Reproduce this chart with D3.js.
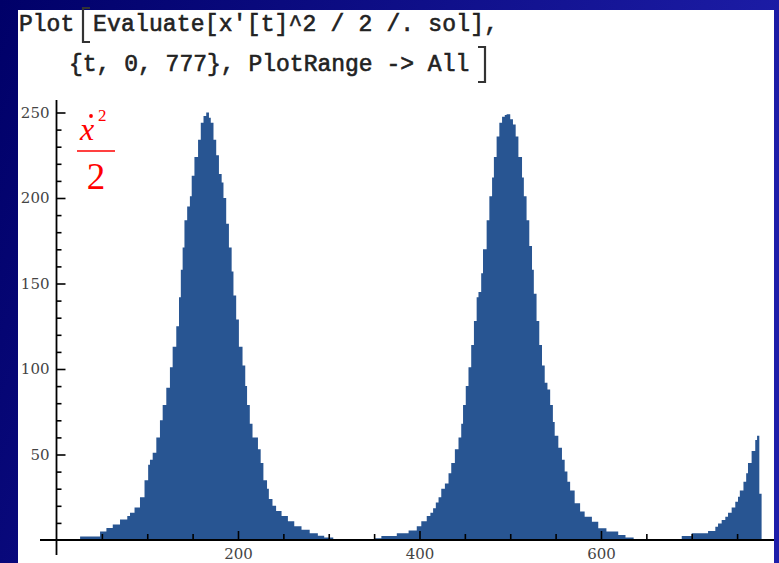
<!DOCTYPE html>
<html><head><meta charset="utf-8">
<script src="https://cdn.jsdelivr.net/npm/d3@7"></script>
<style>html,body{margin:0;padding:0;overflow:hidden;background:#000070}</style>
</head><body>
<script>
// ---- data: envelope of x'(t)^2/2 ----
const tValues = [0,26,48,55,62,70,78,81,86,92,97,101,103,106,110,114,117,121,125,128,132,135,137,139,141,144,147,149,152,156,159,162,165,168,170,173,176,179,182,184,187,190,193,195,198,201,205,208,210,213,216,222,225,228,232,234,238,242,248,255,262,270,279,288,295,305,
351,358,375,388,397,402,408,412,415,418,421,424,428,432,435,439,443,446,448,451,454,457,460,463,465,468,470,474,477,480,482,485,488,491,494,496,500,503,506,509,513,515,518,521,524,526,529,532,535,538,541,544,547,549,553,557,560,563,566,571,577,582,590,597,606,619,627,636,
689,700,718,726,729,733,737,740,744,748,751,753,757,760,762,766,770,772,774.5,777];
const energy = [0,2,5,7,9,12,14,16,19,25,35,44,47,51,60,70,79,89,101,113,125,142,158,171,187,195,201,213,224,234,244,248,250,247,244,234,225,214,209,200,185,171,157,143,129,113,102,90,79,68,60,53,45,35,30,24,20,17,14,11,8,6,4,2.5,1.5,0,
1,2.3,4,5.5,8,11,14,16,18.5,22,25,30,33,39,45,53,60,68,79,90,101,114,128,142,145,156,170,187,201,212,224,236,244,247.5,248.5,249,246,243,236,224,212,201,187,172,158,144,128,114,102,92,88,79,69,61,54,47,40,34,29,21.5,16.6,13.6,10.7,6.8,4.9,2.9,1.5,0,
2.3,4,5.3,7.8,9.7,11.7,13.6,16,19,22.4,25.3,29,34,39,45,52,58.5,61,27,27];
const xMajor = [200,400,600];
const xMinor = [50,100,150,250,300,350,450,500,550,650,700,750];
const yMajor = [50,100,150,200,250];
const yMinor = [10,20,30,40,60,70,80,90,110,120,130,140,160,170,180,190,210,220,230,240];
const codeLine1a = "Plot";
const codeLine1b = "Evaluate[x'[t]^2 / 2 /. sol],";
const codeLine2 = "{t, 0, 777}, PlotRange -> All";

const W = 779, H = 563;
const svg = d3.select("body").append("svg").attr("width", W).attr("height", H);
const defs = svg.append("defs");
const grad = defs.append("linearGradient").attr("id","bg").attr("x1","0").attr("y1","0").attr("x2","1").attr("y2","0.3");
grad.append("stop").attr("offset","0").attr("stop-color","#000068");
grad.append("stop").attr("offset","1").attr("stop-color","#1e1eaa");
svg.append("rect").attr("width",W).attr("height",H).attr("fill","url(#bg)");
svg.append("rect").attr("x",18).attr("y",10).attr("width",756).attr("height",H-10).attr("fill","#fff");

// code text
const code = svg.append("g").attr("font-family","'Liberation Mono','Courier New',monospace")
  .attr("font-size",23).attr("fill","#222").attr("stroke","#222").attr("stroke-width",0.6);
code.append("text").attr("x",19).attr("y",31).text(codeLine1a);
code.append("text").attr("x",93).attr("y",31).attr("xml:space","preserve")
  .attr("textLength",405).attr("lengthAdjust","spacing").text(codeLine1b);
code.append("text").attr("x",69).attr("y",71).attr("xml:space","preserve").text(codeLine2);
// stretched brackets
code.append("path").attr("d","M90,8 H83 V42 H90").attr("fill","none").attr("stroke","#333").attr("stroke-width",2.2);
code.append("path").attr("d","M478,47 H485 V82 H478").attr("fill","none").attr("stroke","#333").attr("stroke-width",2.2);

const x = d3.scaleLinear().domain([0,777]).range([56.5,761.6]);
const y = d3.scaleLinear().domain([0,250]).range([540,112.5]);

const data = tValues.map((t,i)=>({t, v: energy[i]}));
const area = d3.area().x(d=>x(d.t)).y0(y(0)).y1(d=>y(d.v)).curve(d3.curveStepAfter);
svg.append("path").datum(data).attr("d",area).attr("fill","#285592");

// axes
const axStyle = g => { g.select(".domain").remove(); g.selectAll("line").attr("stroke","#000").attr("stroke-width",1.6);
  g.selectAll("text").attr("font-family","'DejaVu Serif',serif").attr("font-size",15).attr("fill","#444"); };
svg.append("g").attr("transform",`translate(${x(0)},0)`)
  .call(d3.axisLeft(y).tickValues(yMinor).tickSize(-5).tickFormat(""))
  .call(axStyle);
svg.append("g").attr("transform",`translate(${x(0)},0)`)
  .call(d3.axisLeft(y).tickValues(yMajor).tickSize(-9).tickPadding(7).tickFormat(d3.format("d")))
  .call(axStyle);
svg.append("g").attr("transform",`translate(0,${y(0)})`)
  .call(d3.axisBottom(x).tickValues(xMinor).tickSize(-6).tickFormat(""))
  .call(axStyle);
svg.append("g").attr("transform",`translate(0,${y(0)})`)
  .call(d3.axisBottom(x).tickValues(xMajor).tickSize(-9).tickPadding(8).tickFormat(d3.format("d")))
  .call(axStyle);
// axis lines
svg.append("line").attr("x1",40).attr("x2",774).attr("y1",y(0)).attr("y2",y(0)).attr("stroke","#000").attr("stroke-width",1.8);
svg.append("line").attr("x1",x(0)).attr("x2",x(0)).attr("y1",100).attr("y2",555).attr("stroke","#000").attr("stroke-width",1.8);

// red label  x-dot^2 / 2
const lab = svg.append("g").attr("fill","#ff0000").attr("font-family","'Liberation Serif','Times New Roman',serif");
lab.append("text").attr("x",80).attr("y",140).attr("font-style","italic").attr("font-size",32).text("x");
lab.append("circle").attr("cx",91).attr("cy",116).attr("r",1.9);
lab.append("text").attr("x",98).attr("y",121).attr("font-size",17).text("2");
lab.append("line").attr("x1",77).attr("x2",115).attr("y1",151).attr("y2",151).attr("stroke","#ff0000").attr("stroke-width",1.6);
lab.append("text").attr("x",96).attr("y",189).attr("text-anchor","middle").attr("font-size",37).text("2");
</script>
</body></html>
